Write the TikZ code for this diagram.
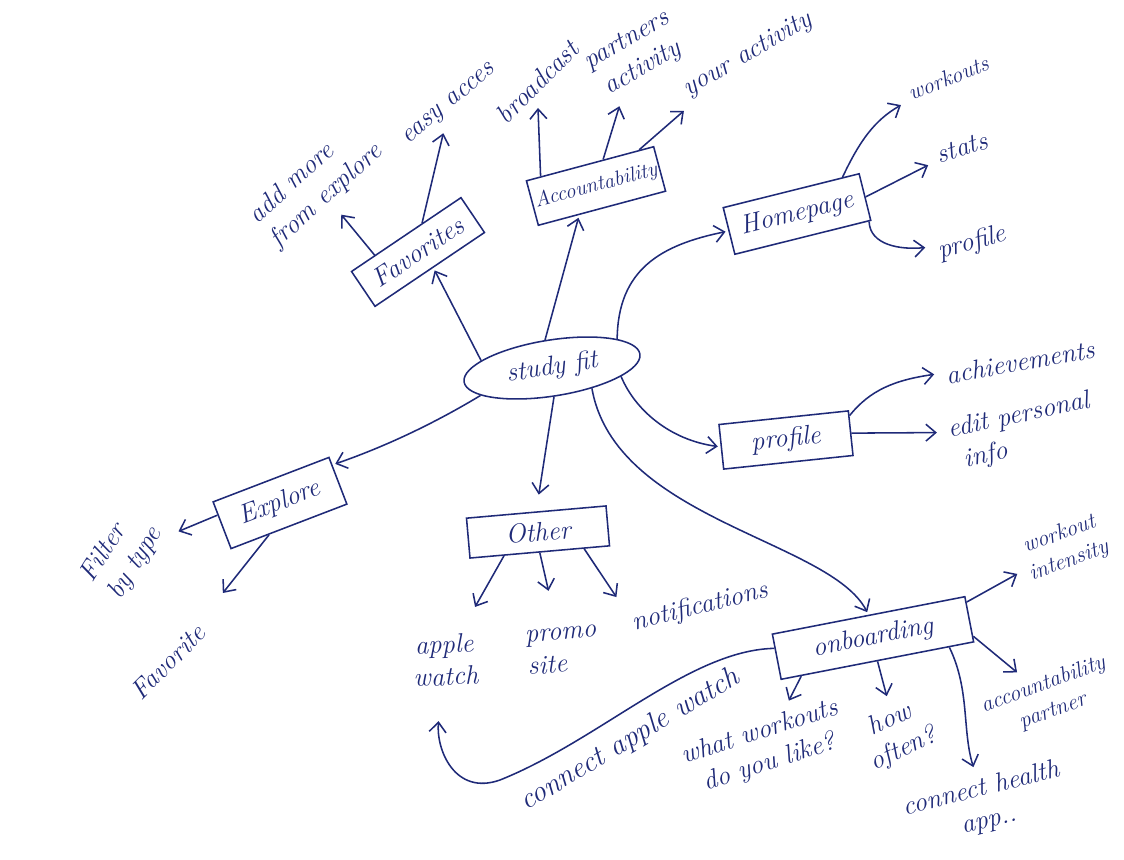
\documentclass[tikz,border=0pt]{standalone}
\usepackage{tikz}
\usetikzlibrary{arrows.meta,shapes.geometric}
\definecolor{inkBlue}{HTML}{1F2A78}
\newcommand{\handfont}{\fontsize{19}{23}\selectfont\itshape}
\newcommand{\smallhand}{\fontsize{16}{20}\selectfont\itshape}
\tikzset{
  hand/.style={text=inkBlue, font=\handfont},
  topic/.style={draw=inkBlue, line width=1.1pt, hand, inner sep=2pt},
  hub/.style={ellipse, topic, minimum width=4.45cm, minimum height=1.4cm},
  leaf/.style={hand, inner sep=3pt, align=center},
  arrow/.style={-{Straight Barb[length=7pt,width=12pt]}, draw=inkBlue, line width=1.1pt, shorten >=2pt},
  leafArrow/.style={arrow, shorten >=#1},
  leafArrow/.default=5pt
}

\begin{document}
\begin{tikzpicture}[x=0.025cm, y=-0.025cm]
  \useasboundingbox (0,0) rectangle (1124,860);

  % centre and main topics
  \node[hub, rotate=9] (hub) at (552,368) {study fit};
  \node[topic, rotate=34, minimum width=3.3cm, minimum height=1.05cm] (fav) at (418,252) {Favorites};
  \node[topic, rotate=15, minimum width=3.05cm, minimum height=1.15cm, font=\fontsize{15}{17}\selectfont\itshape] (acc) at (596,186) {Accountability};
  \node[topic, rotate=14, minimum width=3.5cm, minimum height=1.2cm] (home) at (797,214) {Homepage};
  \node[topic, rotate=6, minimum width=3.25cm, minimum height=1.12cm] (prof) at (786,440) {profile};
  \node[topic, rotate=21, minimum width=3.1cm, minimum height=1.25cm] (expl) at (280,503) {Explore};
  \node[topic, rotate=5, minimum width=3.5cm, minimum height=1cm] (other) at (538,532) {Other};
  \node[topic, rotate=11, minimum width=4.9cm, minimum height=1.15cm] (onb) at (873,638) {onboarding};

  % leaves
  \node[leaf, rotate=42, align=left] (addmore) at (316,184) {add more\\from explore};
  \node[leaf, rotate=40] (easy) at (450,105) {easy acces};
  \node[leaf, rotate=45] (broad) at (537,82) {broadcast};
  \node[leaf, rotate=30] (partners) at (635,55) {partners\\activity};
  \node[leaf, rotate=30] (youract) at (748,55) {your activity};
  \node[leaf, rotate=22, font=\smallhand] (workouts) at (948,78) {workouts};
  \node[leaf, rotate=18] (stats) at (962,148) {stats};
  \node[leaf, rotate=15] (hprof) at (972,243) {profile};
  \node[leaf, rotate=10] (achieve) at (1020,362) {achievements};
  \node[leaf, rotate=12, align=left] (editinfo) at (1022,432) {edit personal\\\ info};
  \node[leaf, rotate=58, align=left] (filter) at (122,555) {Filter\\by type};
  \node[leaf, rotate=45] (favorite) at (168,662) {Favorite};
  \node[leaf, rotate=3] (applew) at (445,660) {apple\\watch};
  \node[leaf, rotate=5, align=left] (promo) at (562,650) {promo\\site};
  \node[leaf, rotate=14] (notif) at (700,607) {notifications};
  \node[leaf, rotate=20, font=\smallhand] (intensity) at (1064,548) {workout\\intensity};
  \node[leaf, rotate=20, font=\smallhand] (accpartner) at (1048,698) {accountability\\partner};
  \node[leaf, rotate=31, font=\fontsize{21}{23}\selectfont\itshape] (connaw) at (630,740) {connect apple watch};
  \node[leaf, rotate=18] (whatw) at (765,748) {what workouts\\do you like?};
  \node[leaf, rotate=25] (howoft) at (897,735) {how\\often?};
  \node[leaf, rotate=14] (health) at (985,805) {connect health\\app..};

  % from the centre
  \draw[arrow] (hub.165) -- (fav.-80);
  \draw[arrow] (hub.95) -- (acc.-135);
  \draw[arrow] (hub.15) .. controls (618,270) and (660,245) .. (home.west);
  \draw[arrow] (hub.-16) .. controls (635,410) and (670,440) .. (prof.west);
  \draw[arrow, shorten >=12pt] (hub.-95) -- (other.north);
  \draw[arrow] (hub.-36) .. controls (615,520) and (830,540) .. (onb.north);
  \draw[arrow] (hub.192) .. controls (440,420) and (390,445) .. (expl.15);

  % to the leaves
  \draw[leafArrow] (fav.150) -- (addmore);
  \draw[leafArrow] (fav.48) -- (easy);
  \draw[leafArrow] (acc.155) -- (broad);
  \draw[leafArrow] (acc.60) -- (partners);
  \draw[leafArrow] (acc.25) -- (youract);
  \draw[leafArrow] (home.25) .. controls (860,140) and (875,120) .. (workouts);
  \draw[leafArrow] (home.east) -- (stats);
  \draw[leafArrow] (home.-20) .. controls (870,245) and (900,250) .. (hprof);
  \draw[leafArrow] (prof.15) .. controls (870,390) and (895,380) .. (achieve);
  \draw[leafArrow] (prof.east) -- (editinfo);
  \draw[leafArrow] (expl.170) -- (filter);
  \draw[leafArrow=26pt] (expl.-130) -- (favorite);
  \draw[leafArrow=18pt] (other.-150) -- (applew);
  \draw[leafArrow=24pt] (other.south) -- (promo);
  \draw[leafArrow=10pt] (other.-25) -- (notif.north west);
  \draw[leafArrow] (onb.10) -- (intensity);
  \draw[leafArrow] (onb.-10) -- (accpartner);
  \draw[leafArrow] (onb.-18) .. controls (970,690) and (962,730) .. (health);
  \draw[leafArrow] (onb.south) -- (howoft);
  \draw[leafArrow] (onb.197) -- (whatw);
  \draw[arrow, shorten >=22pt] (onb.175) .. controls (690,650) and (600,740) .. (500,780) .. controls (455,796) and (436,750) .. (applew.-100);
\end{tikzpicture}
\end{document}
